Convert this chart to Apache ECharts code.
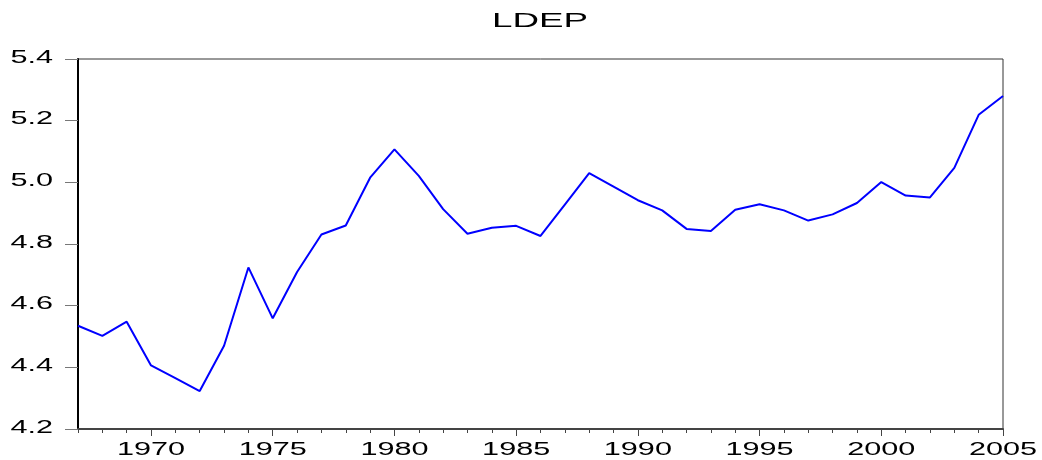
<!DOCTYPE html>
<html>
<head>
<meta charset="utf-8">
<script src="https://cdn.jsdelivr.net/npm/echarts@6/dist/echarts.min.js"></script>
<style>
  html, body { margin: 0; padding: 0; background: #fff; }
  #chart { width: 1042px; height: 460px; }
</style>
</head>
<body>
<div id="chart"></div>
<script>
const years = [1967, 1968, 1969, 1970, 1971, 1972, 1973, 1974, 1975, 1976,
  1977, 1978, 1979, 1980, 1981, 1982, 1983, 1984, 1985, 1986,
  1987, 1988, 1989, 1990, 1991, 1992, 1993, 1994, 1995, 1996,
  1997, 1998, 1999, 2000, 2001, 2002, 2003, 2004, 2005];
const ldep = [4.535, 4.502, 4.548, 4.406, 4.365, 4.323, 4.470, 4.724, 4.559, 4.709,
  4.831, 4.860, 5.015, 5.107, 5.021, 4.913, 4.833, 4.853, 4.859, 4.826,
  4.928, 5.030, 4.986, 4.942, 4.909, 4.849, 4.842, 4.911, 4.929, 4.909,
  4.876, 4.896, 4.933, 5.001, 4.957, 4.951, 5.047, 5.219, 5.280];
const xTickLabels = [1970, 1975, 1980, 1985, 1990, 1995, 2000, 2005];
const yTickLabels = [4.2, 4.4, 4.6, 4.8, 5.0, 5.2, 5.4];

// the original uses a wide, stretched sans face
const FONT = "Liberation Sans";
const STRETCH = 1.75;

const chart = echarts.init(document.getElementById("chart"), null, { renderer: "canvas" });
chart.setOption({
  backgroundColor: "#ffffff",
  animation: false,
  grid: {
    left: 78, right: 39, top: 59, bottom: 31,
    show: true, borderColor: "#333", borderWidth: 1, backgroundColor: "transparent",
  },
  xAxis: [
    {
      type: "value",
      min: 1967,
      max: 2005,
      interval: 1,
      axisLine: { show: true, lineStyle: { color: "#444", width: 2 } },
      axisTick: { show: true, length: 4, lineStyle: { color: "#444" } },
      splitLine: { show: false },
      axisLabel: { show: false },
    },
    {
      // longer ticks at the labelled years
      type: "category",
      data: years.map(String),
      boundaryGap: false,
      position: "bottom",
      axisLine: { show: false },
      axisTick: { show: true, length: 7, interval: (i, v) => Number(v) % 5 === 0, lineStyle: { color: "#444" } },
      axisLabel: { show: false },
      splitLine: { show: false },
    },
  ],
  yAxis: {
    type: "value",
    min: 4.2,
    max: 5.4,
    interval: 0.2,
    axisLine: { show: true, lineStyle: { color: "#000", width: 2 } },
    axisTick: { show: true, length: 13, lineStyle: { color: "#777" } },
    splitLine: { show: false },
    axisLabel: { show: false },
  },
  series: [{
    type: "line",
    xAxisIndex: 0,
    data: years.map((y, i) => [y, ldep[i]]),
    showSymbol: false,
    lineStyle: { color: "#0000ff", width: 2 },
  }],
});

function stretchedText(x, y, text, size, align) {
  return {
    type: "text",
    x: x,
    y: y,
    scaleX: STRETCH,
    silent: true,
    style: {
      text: text,
      fontFamily: FONT,
      fontSize: size,
      fill: "#000",
      align: align,
      verticalAlign: "middle",
    },
  };
}

const labels = [stretchedText(540, 21, "LDEP", 21, "center")];
xTickLabels.forEach((yr) => {
  const px = chart.convertToPixel({ xAxisIndex: 0 }, yr);
  labels.push(stretchedText(px, 450, String(yr), 17.5, "center"));
});
yTickLabels.forEach((v) => {
  const py = chart.convertToPixel({ yAxisIndex: 0 }, v);
  labels.push(stretchedText(53, py - 1, v.toFixed(1), 17.5, "right"));
});
chart.setOption({ graphic: labels });
</script>
</body>
</html>
